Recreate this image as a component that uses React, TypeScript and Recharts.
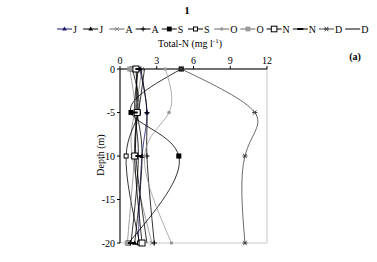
import React from "react";
import { LineChart, Line, XAxis, YAxis, ReferenceArea } from "recharts";

const depths = [0, -5, -10, -20];
const xTicks = [0, 3, 6, 9, 12];
const yTicks = [0, -5, -10, -15, -20];
const legendLabels = ["J", "J", "A", "A", "S", "S", "O", "O", "N", "N", "D", "D"];

const s1 = [1.6, 2.2, 1.8, 1.5];
const s2 = [1.4, 1.4, 1.8, 1.2];
const s3 = [1.8, 1.2, 1.0, 2.6];
const s4 = [1.7, 2.2, 2.2, 2.8];
const s5 = [5.0, 0.9, 4.8, 0.7];
const s6 = [1.0, 1.5, 0.5, 1.6];
const s7 = [3.7, 4.0, 2.0, 4.2];
const s8 = [0.8, 1.3, 1.2, 0.6];
const s9 = [1.3, 1.4, 1.2, 1.8];
const s10 = [1.5, 1.2, 1.5, 0.9];
const s11 = [5.0, 11.0, 10.2, 10.2];
const s12 = [2.0, 1.5, 1.3, 2.2];

const seriesValues = [s1, s2, s3, s4, s5, s6, s7, s8, s9, s10, s11, s12];
const seriesColors = ["#1a1a6e", "#000", "#888", "#000", "#000", "#000", "#999", "#888", "#000", "#000", "#444", "#000"];
const seriesShapes = ["tri", "tri", "x", "plus", "fsq", "osq", "circ", "gsq", "bigsq", "dash", "star", "none"];

const data = depths.map((d, i) => {
  const row: any = { depth: d };
  seriesValues.forEach((s, k) => {
    row["s" + k] = s[i];
  });
  return row;
});

function Marker({ shape, color, cx, cy, small }: any) {
  const f = small ? 0.8 : 0.85;
  switch (shape) {
    case "tri":
      return <polygon points={`${cx},${cy - 3 * f} ${cx - 3 * f},${cy + 2 * f} ${cx + 3 * f},${cy + 2 * f}`} fill={color} />;
    case "x":
      return (
        <g stroke={color} strokeWidth={1}>
          <line x1={cx - 2.5 * f} y1={cy - 2.5 * f} x2={cx + 2.5 * f} y2={cy + 2.5 * f} />
          <line x1={cx - 2.5 * f} y1={cy + 2.5 * f} x2={cx + 2.5 * f} y2={cy - 2.5 * f} />
        </g>
      );
    case "plus":
      return (
        <g stroke={color} strokeWidth={1}>
          <line x1={cx - 3 * f} y1={cy} x2={cx + 3 * f} y2={cy} />
          <line x1={cx} y1={cy - 3 * f} x2={cx} y2={cy + 3 * f} />
        </g>
      );
    case "fsq":
      return <rect x={cx - 3 * f} y={cy - 3 * f} width={6 * f} height={6 * f} fill={color} />;
    case "osq":
      return <rect x={cx - 2} y={cy - 2} width={4} height={4} fill="#fff" stroke={color} strokeWidth={1} />;
    case "circ":
      return <circle cx={cx} cy={cy} r={1.8} fill={color} />;
    case "gsq":
      return <rect x={cx - 3 * f} y={cy - 3 * f} width={6 * f} height={6 * f} fill="#999" />;
    case "bigsq":
      return <rect x={cx - 3.5 * f} y={cy - 3.5 * f} width={7 * f} height={7 * f} fill="#fff" stroke={color} strokeWidth={1} />;
    case "dash":
      return <line x1={cx - 3} y1={cy} x2={cx + 3} y2={cy} stroke={color} strokeWidth={2} />;
    case "star":
      return (
        <g stroke={color} strokeWidth={1}>
          <line x1={cx - 2.5} y1={cy} x2={cx + 2.5} y2={cy} />
          <line x1={cx - 1.7} y1={cy - 2.2} x2={cx + 1.7} y2={cy + 2.2} />
          <line x1={cx - 1.7} y1={cy + 2.2} x2={cx + 1.7} y2={cy - 2.2} />
        </g>
      );
    default:
      return null;
  }
}

const makeDot = (shape: string, color: string) => (props: any) => {
  const { cx, cy, index } = props;
  return (
    <g key={`d-${shape}-${index}`}>
      <Marker shape={shape} color={color} cx={cx} cy={cy} />
    </g>
  );
};

const font = "'Liberation Serif', 'DejaVu Serif', serif";

export default function App() {
  return (
    <div style={{ position: "absolute", left: 0, top: 0, width: 377, height: 262, background: "#fff", fontFamily: font }}>
      <svg width={377} height={66} style={{ position: "absolute", left: 0, top: 0 }}>
        <text x={187} y={14} textAnchor="middle" fontSize={11} fontWeight="bold" fontFamily={font}>1</text>
        {legendLabels.map((lab, k) => {
          const x0 = 57 + k * 26.2;
          const y0 = 29;
          return (
            <g key={k}>
              <line x1={x0} y1={y0} x2={x0 + 15} y2={y0} stroke={seriesColors[k] === "#888" || seriesColors[k] === "#999" ? "#666" : seriesColors[k]} strokeWidth={1} />
              <Marker shape={seriesShapes[k]} color={seriesColors[k]} cx={x0 + 7.5} cy={y0} small />
              <text x={x0 + 16} y={y0 + 3.5} fontSize={10} fontFamily={font}>{lab}</text>
            </g>
          );
        })}
        <text x={190} y={47} textAnchor="middle" fontSize={10} fontFamily={font}>
          Total-N (mg l<tspan dy={-4} fontSize={7}>-1</tspan><tspan dy={4}>)</tspan>
        </text>
        <text x={355} y={60} textAnchor="middle" fontSize={10} fontWeight="bold" fontFamily={font}>(a)</text>
      </svg>
      <svg width={20} height={100} style={{ position: "absolute", left: 92, top: 105 }}>
        <text x={12} y={50} transform="rotate(-90 12 50)" textAnchor="middle" fontSize={10} fontFamily={font}>Depth (m)</text>
      </svg>
      <div style={{ position: "absolute", left: 0, top: 0 }}>
        <LineChart
          layout="vertical"
          width={377}
          height={262}
          data={data}
          margin={{ top: 49, right: 110, bottom: 19, left: 90 }}
        >
          <ReferenceArea x1={0} x2={12} y1={-20} y2={0} fill="none" stroke="#c8c8c8" strokeWidth={1} ifOverflow="visible" />
          <XAxis
            type="number"
            orientation="top"
            domain={[0, 12]}
            ticks={xTicks}
            height={20}
            tickSize={3}
            axisLine={{ stroke: "#000" }}
            tickLine={{ stroke: "#000" }}
            tick={{ fontSize: 10, fill: "#000", fontFamily: font }}
            interval={0}
          />
          <YAxis
            type="number"
            dataKey="depth"
            domain={[-20, 0]}
            ticks={yTicks}
            reversed
            width={30}
            tickSize={3}
            axisLine={{ stroke: "#000" }}
            tickLine={{ stroke: "#000" }}
            tick={{ fontSize: 10, fill: "#000", fontFamily: font }}
            interval={0}
          />
          {seriesValues.map((_, k) => (
            <Line
              key={k}
              dataKey={"s" + k}
              type="natural"
              stroke={seriesColors[k]}
              strokeWidth={0.8}
              dot={makeDot(seriesShapes[k], seriesColors[k])}
              activeDot={false}
              isAnimationActive={false}
            />
          ))}
        </LineChart>
      </div>
    </div>
  );
}
